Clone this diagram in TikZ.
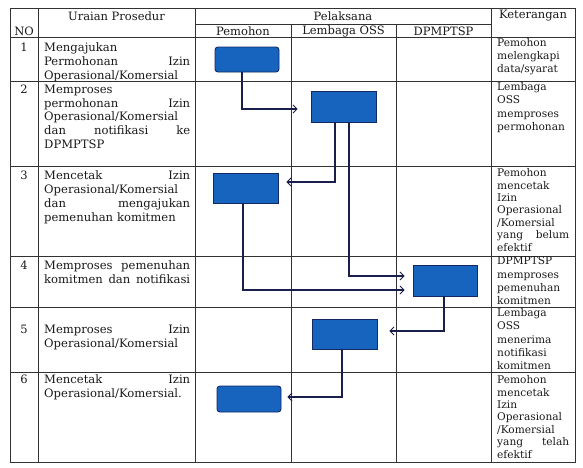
\documentclass[tikz,border=0pt]{standalone}
\usepackage{fontspec}
\setmainfont{DejaVu Serif}
\usetikzlibrary{arrows.meta}
\definecolor{gridc}{RGB}{50,50,50}
\definecolor{flowc}{RGB}{25,30,75}
\definecolor{boxfill}{RGB}{22,100,190}
\definecolor{boxline}{RGB}{20,40,100}
\definecolor{txt}{RGB}{25,25,25}
\tikzset{
  grid/.style={draw=gridc, line width=0.9pt},
  proc/.style={draw=boxline, fill=boxfill, line width=0.9pt, inner sep=0pt},
  flow/.style={draw=flowc, line width=1.1pt, -{Straight Barb[length=4pt,width=8pt,line width=0.9pt]}},
  head/.style={font=\fontsize{11.5}{13}\selectfont, text=txt, inner sep=0pt},
  num/.style={font=\fontsize{11.5}{13}\selectfont, text=txt, inner sep=0pt, anchor=north},
  urai/.style={font=\fontsize{11.6}{13.9}\selectfont, text=txt, inner sep=0pt, anchor=north west, text width=146pt, align=left},
  ket/.style={font=\fontsize{10.6}{13.2}\selectfont, text=txt, inner sep=0pt, anchor=north west, text width=72pt, align=left},
  ketd/.style={ket, font=\fontsize{10.6}{12.4}\selectfont}
}
\begin{document}
\begin{tikzpicture}[x=1pt,y=-1pt]
\useasboundingbox (0,0) rectangle (583,467);
% table
\draw[grid] (10,8) rectangle (575,462);
\draw[grid] (38,8) -- (38,462);
\draw[grid] (195,8) -- (195,462);
\draw[grid] (291,24) -- (291,462);
\draw[grid] (396,24) -- (396,462);
\draw[grid] (491,8) -- (491,462);
\draw[grid] (195,24) -- (491,24);
\foreach \yy in {37,81,166,256,307,372} \draw[grid] (10,\yy) -- (575,\yy);
% headers
\node[head] (hno) at (24,31) {NO};
\node[head] (hur) at (116.5,16) {Uraian Prosedur};
\node[head] (hpel) at (343,16.5) {Pelaksana};
\node[head] (hpem) at (243,31) {Pemohon};
\node[head] (hlem) at (343.5,31) {Lembaga OSS};
\node[head] (hdpm) at (443.5,31) {DPMPTSP};
\node[head] (hket) at (533,16) {Keterangan};
% numbers
\node[num] (n1) at (24,42.5) {1};
\node[num] (n2) at (24,84.5) {2};
\node[num] (n3) at (24,170.5) {3};
\node[num] (n4) at (24,260.5) {4};
\node[num] (n5) at (24,324.5) {5};
\node[num] (n6) at (24,374.5) {6};
% uraian
\node[urai] (u1) at (44,42.5) {Mengajukan\\Permohonan\hfill Izin\\Operasional/Komersial};
\node[urai] (u2) at (44,84.5) {Memproses\\permohonan\hfill Izin\\Operasional/Komersial\\dan\hfill notifikasi\hfill ke\\DPMPTSP};
\node[urai] (u3) at (44,170.5) {Mencetak\hfill Izin\\Operasional/Komersial\\dan\hfill mengajukan\\pemenuhan komitmen};
\node[urai] (u4) at (44,260.5) {Memproses\hfill pemenuhan\\komitmen\hfill dan\hfill notifikasi};
\node[urai] (u5) at (44,324.5) {Memproses\hfill Izin\\Operasional/Komersial};
\node[urai] (u6) at (44,374.5) {Mencetak\hfill Izin\\Operasional/Komersial.};
% keterangan
\node[ket] (k1) at (497,38.3) {Pemohon\\melengkapi\\data/syarat};
\node[ket] (k2) at (497,82.5) {Lembaga\\OSS\\memproses\\permohonan};
\node[ketd] (k3) at (497,168.5) {Pemohon\\mencetak\\Izin\\Operasional\\/Komersial\\yang\hfill belum\\efektif};
\node[ket] (k4) at (497,256.8) {DPMPTSP\\memproses\\pemenuhan\\komitmen};
\node[ket] (k5) at (497,308.5) {Lembaga\\OSS\\menerima\\notifikasi\\komitmen};
\node[ketd] (k6) at (497,375.5) {Pemohon\\mencetak\\Izin\\Operasional\\/Komersial\\yang\hfill telah\\efektif};
% process boxes
\node[proc, rounded corners=3pt, minimum width=64pt, minimum height=25pt] (b1) at (247,59.5) {};
\node[proc, minimum width=65pt, minimum height=31pt] (b2) at (343.5,106.5) {};
\node[proc, minimum width=65pt, minimum height=30pt] (b3) at (245.5,188) {};
\node[proc, minimum width=64pt, minimum height=31pt] (b4) at (445,280.5) {};
\node[proc, minimum width=65pt, minimum height=30pt] (b5) at (344.5,334) {};
\node[proc, rounded corners=3pt, minimum width=64pt, minimum height=26pt] (b6) at (249,399) {};
% flows
\draw[flow] ([xshift=-5pt]b1.south) |- ([xshift=-13pt,yshift=-2.5pt]b2.west);
\draw[flow] ([xshift=-8.5pt]b2.south) |- ([xshift=8pt,yshift=6pt]b3.east);
\draw[flow] ([xshift=5.5pt]b2.south) |- ([xshift=-8pt,yshift=4.5pt]b4.west);
\draw[flow] ([xshift=-2.5pt]b3.south) |- ([xshift=-8pt,yshift=-9.5pt]b4.west);
\draw[flow] ([xshift=-1pt]b4.south) |- ([xshift=12pt,yshift=3pt]b5.east);
\draw[flow] ([xshift=-2.5pt]b5.south) |- ([xshift=6pt,yshift=2pt]b6.east);
\end{tikzpicture}
\end{document}
